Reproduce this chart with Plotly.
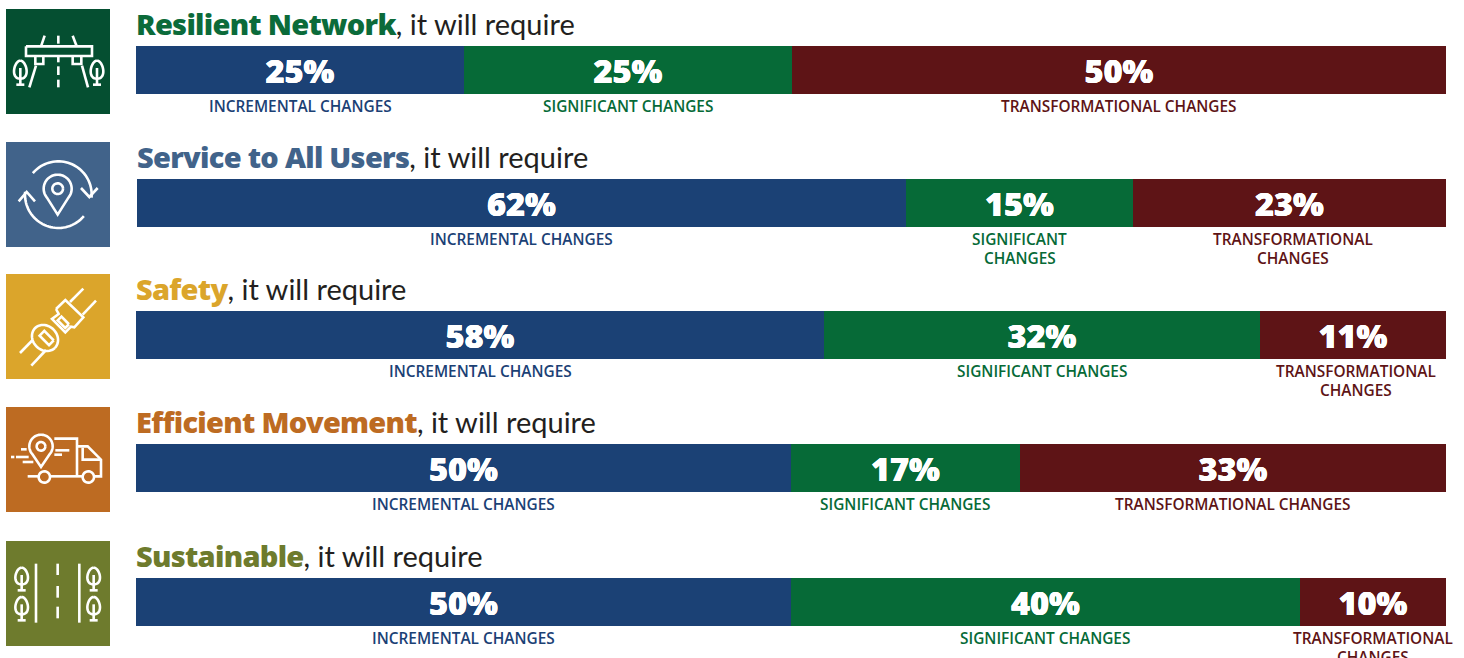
"""Five stacked bars: share of incremental, significant and transformational changes per goal."""

import numpy as np
import plotly.graph_objects as go

PAGE_W = 1464
PAGE_H = 658

GOALS = ["Resilient Network", "Service to All Users", "Safety", "Efficient Movement", "Sustainable"]
SERIES = ["INCREMENTAL CHANGES", "SIGNIFICANT CHANGES", "TRANSFORMATIONAL CHANGES"]

# printed percentages
incremental_pct = [25, 62, 58, 50, 50]
significant_pct = [25, 15, 32, 17, 40]
transformational_pct = [50, 23, 11, 33, 10]

# drawn lengths, the printed numbers do not always match the bar length
incremental_len = [25.04, 58.75, 52.52, 50.0, 50.0]
significant_len = [25.04, 17.34, 33.28, 17.48, 38.85]
transformational_len = [49.92, 23.91, 14.2, 32.52, 11.15]

# which labels wrap onto two lines, per goal
wrapped = [
    [False, False, False],
    [False, True, True],
    [False, False, True],
    [False, False, False],
    [False, False, True],
]

BAR_COLORS = ["#1b4175", "#066a37", "#5e1416"]
ICON_COLORS = ["#054f31", "#41638a", "#dba52b", "#bd6b22", "#6e7b2d"]
TITLE_COLORS = ["#0b6b3a", "#41638a", "#dba52b", "#bd6b22", "#6e7b2d"]

BAR_TOPS = [46, 179, 311, 444, 578]
BAR_LEFTS = [136, 137, 136, 136, 136]
BAR_RIGHT = 1446
BAR_H = 48
ICON_TOPS = [9, 142, 274, 407, 541]
LABEL_NUDGE = [0, 3.5, 3.5, 0, 0]
LABEL_LINE_H = 18.5

TITLE_FONT = "Lato"
HEAVY_FONT = "Noto Sans"
LABEL_FONT = "Open Sans"
HEAVY_SHADOW = "0.3px 0 0 white, -0.3px 0 0 white"


def arc(cx, cy, r, a0, a1, n=40):
    t = np.radians(np.linspace(a0, a1, n))
    return list(zip(cx + r * np.cos(t), cy + r * np.sin(t)))


def pin(cx, cy, r, tip, inner):
    # outline of a map pin, angles chosen so the sides reach the tip
    body = arc(cx, cy, r, 140, 400, 40)
    return [body + [(cx, tip)] + body[:1], arc(cx, cy, inner, 0, 360)]


def tree(cx, top, base):
    leaf = []
    for side in (1, -1):
        t = np.linspace(0, np.pi, 20)
        xs = cx + side * 24 * np.sin(t) ** 0.9 * (0.55 + 0.45 * t / np.pi)
        ys = top + (base - top - 18) * (1 - np.cos(t)) / 2
        leaf.append(list(zip(xs, ys)))
    return [
        leaf[0] + leaf[1][::-1],
        [(cx, top + 22), (cx, base)],
        [(cx - 12, base), (cx + 12, base)],
    ]


def rotated_box(cx, cy, a, b):
    d = np.array([1, 1]) / np.sqrt(2)
    e = np.array([1, -1]) / np.sqrt(2)
    c = np.array([cx, cy])
    corners = [c + a * d + b * e, c + a * d - b * e, c - a * d - b * e, c - a * d + b * e]
    return [tuple(p) for p in corners + corners[:1]]


def rotated_oval(cx, cy, a, b):
    t = np.linspace(0, 2 * np.pi, 50)
    d = np.array([1, 1]) / np.sqrt(2)
    e = np.array([1, -1]) / np.sqrt(2)
    return [tuple(np.array([cx, cy]) + a * np.cos(v) * d + b * np.sin(v) * e) for v in t]


# icon strokes are in 3x zoomed icon units, 312 wide
ICON_BRIDGE = [
    [(60, 112), (258, 112), (258, 141), (60, 141), (60, 112)],
    [(88, 141), (88, 165), (112, 165), (112, 141)],
    [(200, 141), (200, 165), (226, 165), (226, 141)],
    [(116, 80), (105, 112)],
    [(200, 80), (212, 112)],
    [(157, 80), (157, 104)],
    [(157, 141), (157, 160)],
    [(157, 172), (157, 198)],
    [(157, 212), (157, 235)],
    [(90, 170), (70, 235)],
    [(228, 170), (246, 235)],
] + tree(43, 155, 227) + tree(273, 155, 227)

ICON_PIN_LOOP = [
    arc(157, 158, 100, 220, 365),
    [(225, 138), (250, 165), (275, 138)],
    arc(157, 158, 100, 40, 185),
    [(38, 178), (62, 150), (87, 178)],
] + pin(155, 140, 42, 218, 16)

ICON_BELT = [
    [(232, 44), (192, 84)],
    [(270, 80), (230, 122)],
    [(150, 105), (178, 78), (232, 130), (205, 160), (195, 158), (178, 175), (138, 135), (158, 120), (150, 105)],
    rotated_box(172, 145, 16, 8),
    rotated_oval(117, 192, 42, 36),
    rotated_box(122, 192, 20, 10),
    [(80, 198), (42, 237)],
    [(120, 228), (76, 275)],
]

ICON_TRUCK = pin(105, 118, 35, 180, 13) + [
    [(145, 95), (213, 95), (213, 208)],
    [(213, 118), (245, 118), (285, 158), (285, 208), (265, 208)],
    [(230, 122), (230, 158), (285, 158)],
    [(65, 208), (97, 208)],
    [(132, 208), (228, 208)],
    arc(115, 210, 17, 0, 360),
    arc(247, 210, 17, 0, 360),
    [(45, 127), (62, 127)],
    [(15, 150), (25, 150)],
    [(30, 150), (68, 150)],
    [(50, 165), (82, 165)],
    [(148, 130), (190, 130)],
    [(145, 143), (168, 143)],
]

ICON_ROAD = [
    [(90, 68), (90, 245)],
    [(220, 68), (220, 245)],
    [(155, 68), (155, 102)],
    [(155, 135), (155, 170)],
    [(155, 197), (155, 232)],
] + tree(47, 80, 148) + tree(47, 168, 238) + tree(263, 80, 148) + tree(263, 168, 238)

ICONS = [ICON_BRIDGE, ICON_PIN_LOOP, ICON_BELT, ICON_TRUCK, ICON_ROAD]

pct = [incremental_pct, significant_pct, transformational_pct]
lengths = [incremental_len, significant_len, transformational_len]

fig = go.Figure()
annotations = []
shapes = []
layout_axes = {}

for row, goal in enumerate(GOALS):
    sfx = "" if row == 0 else str(row + 1)
    left = BAR_LEFTS[row]
    top = BAR_TOPS[row]
    layout_axes[f"xaxis{sfx}"] = dict(
        domain=[left / PAGE_W, BAR_RIGHT / PAGE_W], range=[0, 100], visible=False, anchor=f"y{sfx}", fixedrange=True
    )
    layout_axes[f"yaxis{sfx}"] = dict(
        domain=[1 - (top + BAR_H) / PAGE_H, 1 - top / PAGE_H],
        range=[-0.5, 0.5],
        type="category",
        visible=False,
        anchor=f"x{sfx}",
        fixedrange=True,
    )

    start = 0.0
    for s, series in enumerate(SERIES):
        length = lengths[s][row]
        fig.add_trace(
            go.Bar(
                x=[length],
                y=[goal],
                orientation="h",
                name=series,
                xaxis=f"x{sfx}",
                yaxis=f"y{sfx}",
                marker=dict(color=BAR_COLORS[s], line=dict(width=0)),
                text=[f"{pct[s][row]}%"],
                textposition="inside",
                insidetextanchor="middle",
                textangle=0,
                constraintext="none",
                textfont=dict(family=HEAVY_FONT, size=32.5, color="white", weight=900, shadow=HEAVY_SHADOW),
                showlegend=False,
                hoverinfo="skip",
            )
        )
        # wrapped labels get one annotation per line, the line gap is tighter than plotly's
        lines = series.split(" ") if wrapped[row][s] else [series]
        for i, line in enumerate(lines):
            annotations.append(
                dict(
                    x=start + length / 2,
                    y=top + BAR_H + i * LABEL_LINE_H,
                    xref=f"x{sfx}",
                    yref="y6",
                    xshift=LABEL_NUDGE[row] if s == 2 else 0,
                    text=line,
                    showarrow=False,
                    xanchor="center",
                    yanchor="top",
                    font=dict(family=LABEL_FONT, size=15.4, color=BAR_COLORS[s], weight=600),
                )
            )
        start += length

    annotations.append(
        dict(
            x=left - 2,
            y=top - 23,
            xref="x6",
            yref="y6",
            text=(
                f'<span style="font-family:{HEAVY_FONT};font-weight:900;font-size:29px;letter-spacing:-0.72px;'
                f'color:{TITLE_COLORS[row]}">{goal}</span>, it will require'
            ),
            showarrow=False,
            xanchor="left",
            yanchor="middle",
            font=dict(family=TITLE_FONT, size=29, color="#231f20"),
        )
    )

    icon_top = ICON_TOPS[row]
    shapes.append(
        dict(
            type="rect", xref="x6", yref="y6", x0=6, x1=110, y0=icon_top, y1=icon_top + 105,
            fillcolor=ICON_COLORS[row], line=dict(width=0),
        )
    )
    for stroke in ICONS[row]:
        path = "M" + "L".join(f"{6 + px / 3:.2f},{icon_top + py / 3:.2f}" for px, py in stroke)
        shapes.append(dict(type="path", xref="x6", yref="y6", path=path, line=dict(color="white", width=2.6)))

# full page axis in pixels, used to place the titles, icons and labels
fig.add_trace(go.Scatter(x=[], y=[], xaxis="x6", yaxis="y6", showlegend=False))

fig.update_layout(
    width=PAGE_W,
    height=PAGE_H,
    margin=dict(l=0, r=0, t=0, b=0),
    paper_bgcolor="white",
    plot_bgcolor="rgba(0,0,0,0)",
    barmode="stack",
    bargap=0,
    annotations=annotations,
    shapes=shapes,
    xaxis6=dict(domain=[0, 1], range=[0, PAGE_W], visible=False, anchor="y6", fixedrange=True),
    yaxis6=dict(domain=[0, 1], range=[PAGE_H, 0], visible=False, anchor="x6", fixedrange=True),
    **layout_axes,
)

fig.write_html("out.html", post_script="document.body.style.margin='0';", config={"displayModeBar": False})
